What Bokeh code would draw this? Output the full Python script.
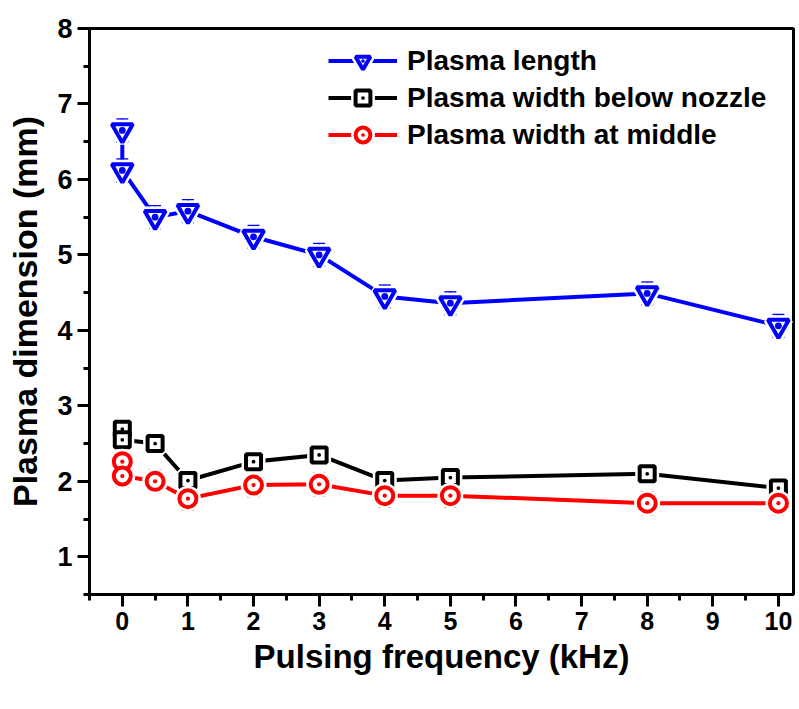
from bokeh.plotting import figure
from bokeh.models import (ColumnDataSource, Whisker, TeeHead, FixedTicker,
                          Legend, LegendItem, Range1d)
from bokeh.embed import file_html
from bokeh.resources import INLINE

# Pulsing frequency (kHz); two measurements were taken at 0 kHz
freq = [0, 0, 0.5, 1, 2, 3, 4, 5, 8, 10]

plasma_length = [6.65, 6.12, 5.50, 5.58, 5.24, 5.00, 4.45, 4.36, 4.49, 4.06]
plasma_length_err = [0.15, 0.15, 0.15, 0.15, 0.15, 0.15, 0.15, 0.15, 0.15, 0.15]

width_below_nozzle = [2.69, 2.55, 2.50, 2.01, 2.26, 2.35, 2.01, 2.05, 2.10, 1.91]
width_below_nozzle_err = [0.14, 0.14, 0.14, 0.14, 0.14, 0.14, 0.14, 0.14, 0.14, 0.14]

width_at_middle = [2.26, 2.07, 2.00, 1.77, 1.95, 1.96, 1.81, 1.81, 1.71, 1.71]
width_at_middle_err = [0.15, 0.15, 0.15, 0.15, 0.15, 0.15, 0.15, 0.15, 0.15, 0.15]

series_names = ["Plasma length", "Plasma width below nozzle", "Plasma width at middle"]

x_ticks = [0, 1, 2, 3, 4, 5, 6, 7, 8, 9, 10]
x_minor_ticks = [-0.5, 0.5, 1.5, 2.5, 3.5, 4.5, 5.5, 6.5, 7.5, 8.5, 9.5]
y_ticks = [1, 2, 3, 4, 5, 6, 7, 8]
y_minor_ticks = [0.5, 1.5, 2.5, 3.5, 4.5, 5.5, 6.5, 7.5]

FONT = "Liberation Sans"

p = figure(width=799, height=709, output_backend="svg", toolbar_location=None,
           x_range=Range1d(-0.5, 10.23), y_range=Range1d(0.5, 8.0),
           min_border_left=89, min_border_right=6, min_border_top=28,
           min_border_bottom=115)
p.background_fill_color = "white"
p.border_fill_color = "white"
p.outline_line_color = "black"
p.outline_line_width = 3
p.outline_line_alpha = 1
p.xgrid.visible = False
p.ygrid.visible = False

p.xaxis.ticker = FixedTicker(ticks=x_ticks, minor_ticks=x_minor_ticks)
p.yaxis.ticker = FixedTicker(ticks=y_ticks, minor_ticks=y_minor_ticks)
p.xaxis.axis_label = "Pulsing frequency (kHz)"
p.yaxis.axis_label = "Plasma dimension (mm)"

for ax in (p.xaxis[0], p.yaxis[0]):
    ax.axis_line_width = 3
    ax.axis_line_color = "black"
    ax.major_tick_line_width = 3
    ax.minor_tick_line_width = 3
    ax.major_tick_in = 0
    ax.major_tick_out = 12
    ax.minor_tick_in = 0
    ax.minor_tick_out = 6
    ax.major_label_text_font = FONT
    ax.major_label_text_font_style = "bold"
    ax.major_label_text_color = "black"
    ax.axis_label_text_font = FONT
    ax.axis_label_text_font_style = "bold"
    ax.axis_label_text_color = "black"
    ax.major_label_standoff = 5

p.xaxis.major_label_text_font_size = "25px"
p.yaxis.major_label_text_font_size = "27px"
p.xaxis.axis_label_text_font_size = "33px"
p.yaxis.axis_label_text_font_size = "34px"
p.xaxis.axis_label_standoff = 5
p.yaxis.axis_label_standoff = 10

series = [
    (series_names[0], plasma_length, plasma_length_err, "#0000FF", "inverted_triangle", 21),
    (series_names[1], width_below_nozzle, width_below_nozzle_err, "#000000", "square_dot", 15),
    (series_names[2], width_at_middle, width_at_middle_err, "#FF0000", "circle_dot", 17),
]

items = []
for name, vals, errs, color, marker, size in series:
    src = ColumnDataSource(dict(
        x=freq, y=vals,
        upper=[v + e for v, e in zip(vals, errs)],
        lower=[v - e for v, e in zip(vals, errs)],
    ))
    p.add_layout(Whisker(base="x", upper="upper", lower="lower", source=src,
                         line_color=color, line_width=1.5,
                         upper_head=TeeHead(size=12, line_color=color, line_width=1.5),
                         lower_head=TeeHead(size=12, line_color=color, line_width=1.5)))
    line_r = p.line("x", "y", source=src, line_color=color, line_width=4)
    # white halo leaves a small gap between the line and each symbol
    gap_r = p.scatter("x", "y", source=src, marker=marker.replace("_dot", ""), size=size,
                      fill_color="white", line_color="white", line_width=9)
    mark_r = p.scatter("x", "y", source=src, marker=marker, size=size,
                       fill_color="white", line_color=color, line_width=4)
    rends = [line_r, gap_r, mark_r]
    if not marker.endswith("_dot"):
        dot_r = p.scatter("x", "y", source=src, marker="dot", size=size * 1.3,
                          line_color=color, fill_color=color, line_width=3)
        rends.append(dot_r)
    items.append(LegendItem(label=name, renderers=rends))

legend = Legend(items=items, location=(239, 441), padding=0, margin=0,
                spacing=0, glyph_width=69, glyph_height=37, label_height=37,
                label_standoff=10, label_text_font=FONT,
                label_text_font_style="bold", label_text_font_size="28px",
                label_text_baseline="middle", label_text_color="black",
                border_line_alpha=0, background_fill_alpha=0)
p.add_layout(legend)

open("out.html", "w").write(file_html(p, INLINE))
